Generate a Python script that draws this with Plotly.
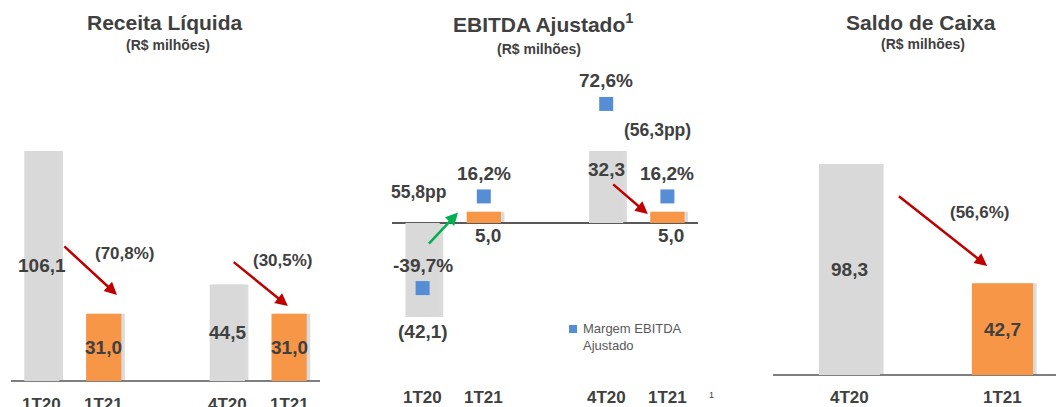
import plotly.graph_objects as go

# ---------------- data ----------------
rev_categories = ["1T20", "1T21", "4T20", "1T21"]
rev_values = [106.1, 31.0, 44.5, 31.0]
rev_change_labels = ["(70,8%)", "(30,5%)"]

ebitda_categories = ["1T20", "1T21", "4T20", "1T21"]
ebitda_values = [-42.1, 5.0, 32.3, 5.0]
ebitda_margin = [-39.7, 16.2, 72.6, 16.2]
ebitda_change_labels = ["55,8pp", "(56,3pp)"]
margin_legend = "Margem EBITDA<br>Ajustado"

cash_categories = ["4T20", "1T21"]
cash_values = [98.3, 42.7]
cash_change_labels = ["(56,6%)"]

# ---------------- style ----------------
OFF = 8                      # page body margin of the html page
W, H = 1064 - OFF, 407 - OFF  # figure size (window px minus offset)
GRAY = "#d9d9d9"
ORANGE = "#f79646"
BLUE = "#558ed5"
TXT = "#404040"
RED = "#c00000"
GREEN = "#00b050"
FONT = "Liberation Sans, Arial, sans-serif"
pair_colors = [GRAY, ORANGE, GRAY, ORANGE]
slots4 = [0, 1, 3, 4]
slots2 = [0, 1]


def fmt(v, dec=1):
    s = f"{abs(v):.{dec}f}".replace(".", ",")
    return f"({s})" if v < 0 else s


def pct(v):
    return f"{v:.1f}".replace(".", ",") + "%"


def px_x(p):          # window pixel -> paper
    return (p - OFF) / W


def px_y(p):
    return 1 - (p - OFF) / H


fig = go.Figure()


def add_bars(xs, vals, colors, width, xa, ya, unit_px):
    dx = 3.5 / unit_px
    fig.add_trace(go.Bar(x=xs, y=vals, width=width, offset=-width / 2 + dx,
                         marker=dict(color="rgba(90,90,90,0.22)", line_width=0),
                         xaxis=xa, yaxis=ya, showlegend=False, hoverinfo="skip"))
    fig.add_trace(go.Bar(x=xs, y=vals, width=width, offset=-width / 2,
                         marker=dict(color=colors, line_width=0),
                         xaxis=xa, yaxis=ya, showlegend=False))


add_bars(slots4, rev_values, pair_colors, 0.57, "x", "y", 61.8)
add_bars(slots4, ebitda_values, pair_colors, 0.56, "x2", "y2", 61.2)
fig.add_trace(go.Scatter(x=slots4, y=ebitda_margin, mode="markers",
                         marker=dict(symbol="square", size=14, color=BLUE),
                         xaxis="x2", yaxis="y4", name="Margem EBITDA Ajustado",
                         showlegend=False))
add_bars(slots2, cash_values, [GRAY, ORANGE], 0.4, "x3", "y3", 153.0)

ann = []


def txt(text, x, y, xref, yref, size, bold=True, color=TXT, yshift=0, xshift=0,
        xanchor="center", align="center"):
    ann.append(dict(text=f"<b>{text}</b>" if bold else text, x=x, y=y, xref=xref, yref=yref,
                    showarrow=False, font=dict(size=size, color=color, family=FONT),
                    yshift=yshift, xshift=xshift, xanchor=xanchor, yanchor="middle",
                    align=align))


def arrow(x0, y0, x1, y1, xref, yref, color):
    ann.append(dict(text="", x=x1, y=y1, ax=x0, ay=y0, xref=xref, yref=yref,
                    axref=xref, ayref=yref, showarrow=True, arrowhead=2,
                    arrowsize=1.0, arrowwidth=2.5, arrowcolor=color, standoff=0))


# titles
txt("Receita Líquida", px_x(165), px_y(22), "paper", "paper", 21)
txt("(R$ milhões)", px_x(168), px_y(45), "paper", "paper", 14)
txt("EBITDA Ajustado<sup>1</sup>", px_x(543), px_y(23), "paper", "paper", 21)
txt("(R$ milhões)", px_x(539), px_y(49), "paper", "paper", 14)
txt("Saldo de Caixa", px_x(921), px_y(22), "paper", "paper", 21)
txt("(R$ milhões)", px_x(923), px_y(44), "paper", "paper", 14)

# panel 1 labels
for s, v, c in zip(slots4, rev_values, rev_categories):
    txt(fmt(v), s, v / 2, "x", "y", 19)
    txt(c, s, px_y(404), "x", "paper", 17)
arrow(0.34, 62.7, 1.215, 39.7, "x", "y", RED)
arrow(3.08, 55.4, 3.98, 34.6, "x", "y", RED)
txt(rev_change_labels[0], 1.345, 59.0, "x", "y", 17)
txt(rev_change_labels[1], 3.90, 55.4, "x", "y", 17)

# panel 2 labels
for s, v, m, c in zip(slots4, ebitda_values, ebitda_margin, ebitda_categories):
    if v < 0:
        txt(fmt(v), s, v, "x2", "y2", 19, yshift=-15)
    elif v > 20:
        txt(fmt(v), s, v, "x2", "y2", 19, yshift=-19)
    else:
        txt(fmt(v), s, 0, "x2", "y2", 19, yshift=-12, xshift=4)
    txt(pct(m), s, m, "x2", "y4", 19, yshift=23)
    txt(c, s, px_y(397), "x2", "paper", 17)
arrow(0.08, -9.9, 0.58, 4.7, "x2", "y2", GREEN)
arrow(3.09, 17.9, 3.68, 4.0, "x2", "y2", RED)
txt(ebitda_change_labels[0], -0.075, 13.9, "x2", "y2", 17.5)
txt(ebitda_change_labels[1], 3.83, 41.7, "x2", "y2", 17.5)
ann.append(dict(text="1", x=px_x(716), y=px_y(402), xref="paper", yref="paper",
                showarrow=False, font=dict(size=9, color=TXT, family=FONT)))

# legend key for the margin markers
txt(margin_legend, px_x(581), px_y(337), "paper", "paper", 13, bold=False,
    color="#595959", xanchor="left", align="left")
shapes = [dict(type="rect", xref="paper", yref="paper",
               x0=px_x(569), x1=px_x(577), y0=px_y(333), y1=px_y(325),
               fillcolor=BLUE, line_width=0)]

# panel 3 labels
for s, v, c in zip(slots2, cash_values, cash_categories):
    txt(fmt(v), s, v / 2, "x3", "y3", 19)
    txt(c, s, px_y(397), "x3", "paper", 17)
arrow(0.313, 83.8, 0.90, 50.8, "x3", "y3", RED)
txt(cash_change_labels[0], 0.853, 75.9, "x3", "y3", 17)

hidden_x = dict(showgrid=False, zeroline=False, showticklabels=False, ticks="",
                showline=False, fixedrange=True)


def yax(zero_px, px_per_unit, color="#7f7f7f", width=2, **kw):
    z = zero_px - OFF
    rng = [-(H - z) / px_per_unit, z / px_per_unit]
    d = dict(range=rng, domain=[0, 1], showgrid=False, showticklabels=False, ticks="",
             showline=False, zeroline=True, zerolinecolor=color, zerolinewidth=width,
             fixedrange=True)
    d.update(kw)
    return d


fig.update_layout(
    width=W, height=H,
    margin=dict(l=0, r=0, t=0, b=0),
    paper_bgcolor="white", plot_bgcolor="rgba(0,0,0,0)",
    barmode="overlay",
    separators=",.",
    font=dict(family=FONT, color=TXT),
    xaxis=dict(domain=[px_x(11), px_x(320)], range=[-0.5, 4.5], anchor="y", **hidden_x),
    yaxis=yax(381, 2.168, anchor="x"),
    xaxis2=dict(domain=[px_x(392), px_x(698)], range=[-0.5, 4.5], anchor="y2", **hidden_x),
    yaxis2=yax(223, 2.23, color="#595959", width=1.5, anchor="x2"),
    yaxis4=yax(223, 1.64, anchor="x2", overlaying="y2", zeroline=False),
    xaxis3=dict(domain=[px_x(773), 1.0], range=[-0.5, 1.402], anchor="y3", **hidden_x),
    yaxis3=yax(375, 2.147, anchor="x3"),
    shapes=shapes,
    annotations=ann,
    showlegend=False,
)

fig.write_html("out.html")
